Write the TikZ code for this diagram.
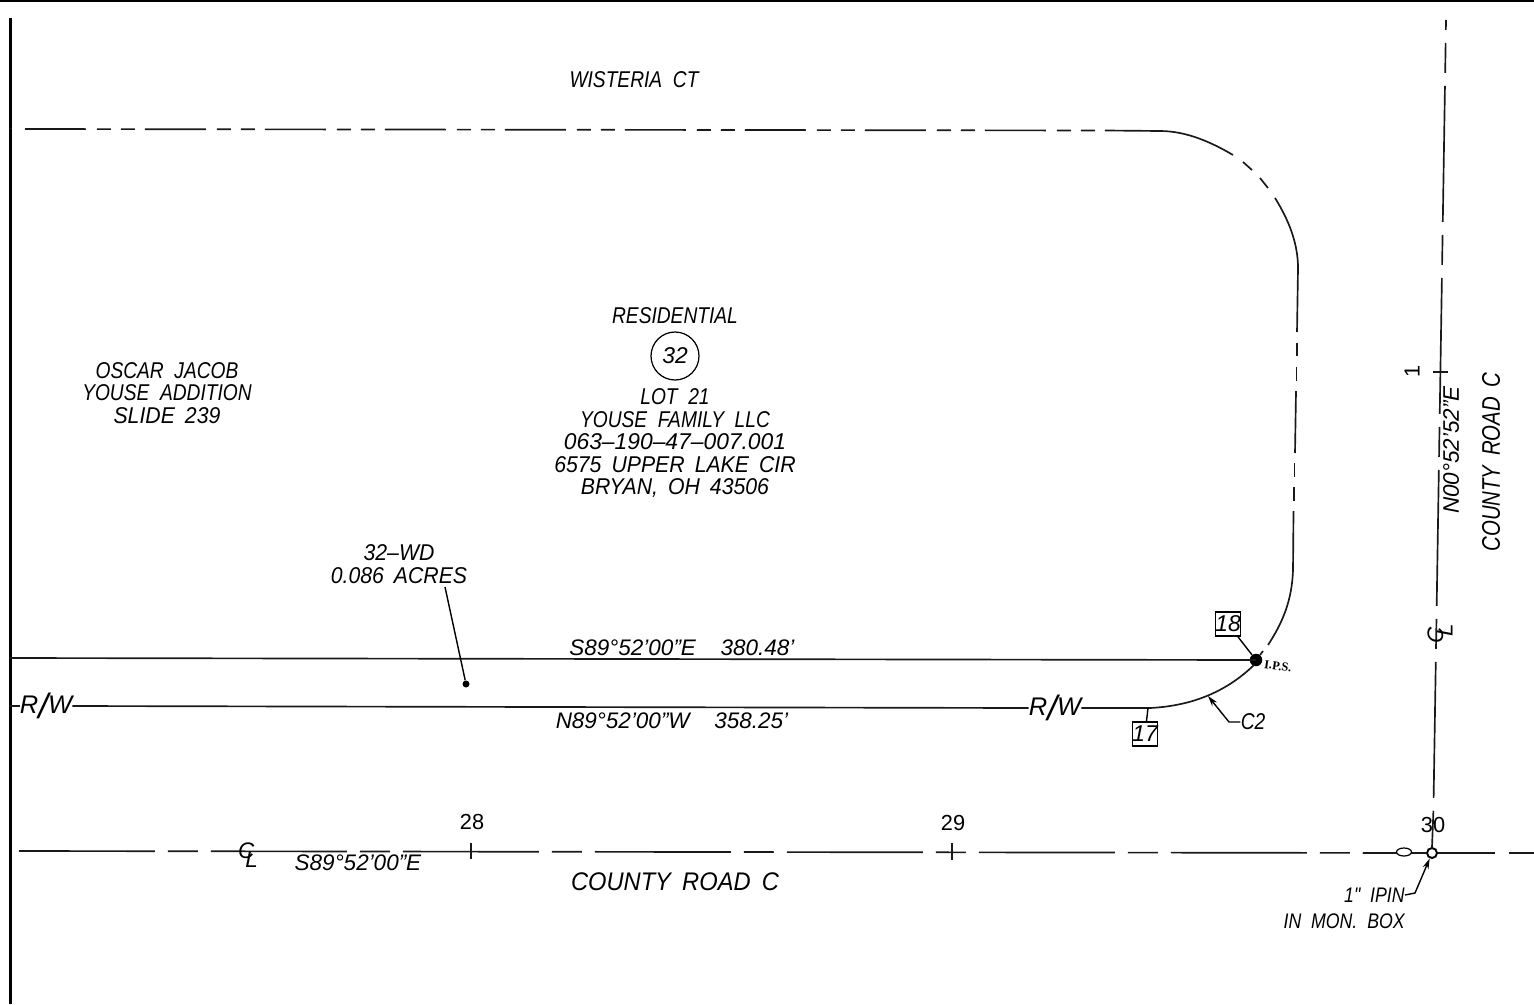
\documentclass[tikz,border=0pt]{standalone}
\usepackage{graphicx}
\usepackage{fontspec}
\setmainfont[WordSpace=1.8]{Liberation Sans}
\newfontfamily\narrowfam[FakeStretch=.84,WordSpace=2.0]{Liberation Sans}
\newfontfamily\numfam[FakeStretch=.93,WordSpace=1.7]{Liberation Sans}
\newfontfamily\ipsfam{Liberation Serif}
\usetikzlibrary{arrows.meta,shapes.geometric}

\tikzset{
	lbl/.style={inner sep=0pt,font=\narrowfam\itshape\fontsize{13}{12.8}\selectfont},
	brg/.style={inner sep=0pt,font=\itshape\fontsize{12.8}{12.8}\selectfont},
	numlbl/.style={inner sep=0pt,font=\numfam\itshape\fontsize{13}{12.8}\selectfont},
	biglbl/.style={inner sep=0pt,font=\numfam\itshape\fontsize{14.5}{14.5}\selectfont},
	boxlbl/.style={inner sep=0pt,font=\narrowfam\itshape\fontsize{12}{14.6}\selectfont},
	sta/.style={inner sep=0pt,font=\fontsize{12.4}{12.4}\selectfont},
	tagbox/.style={draw=black,line width=0.7pt,minimum size=0.48cm,inner sep=0pt,font=\itshape\fontsize{13}{13}\selectfont},
	ln/.style={line width=0.95pt,color=black!90},
	lot/.style={ln,dash pattern=on 1.22cm off .22cm on .28cm off .2cm on .28cm off .2cm},
	cline/.style={ln,dash pattern=on 2.72cm off .26cm on .6cm off .26cm},
	leader/.style={line width=0.8pt,color=black}
}
\newcommand{\clmark}{\makebox[0pt][l]{C}\raisebox{-.42em}{\hspace{.32em}L}}
\newcommand{\rwmark}{\rmfamily R\raisebox{-.2em}{\fontsize{20}{20}\selectfont/}W}

\begin{document}
\begin{tikzpicture}[x=0.02cm,y=-0.02cm]
	\useasboundingbox (0,0) rectangle (1534,1004);
	% sheet border
	\fill[black] (0,0) rectangle (1534,2.5);
	\draw[line width=1.85pt] (10.5,18) -- (10.5,1004);
	% wisteria ct right of way
	\draw[ln] (10,128.5) -- (12,128.5);
	\draw[lot] (25,129) -- (1106,130.5);
	\draw[ln] (1106,130.5) -- (1160,131) .. controls (1186,131) and (1211,142) .. (1233,155);
	\draw[ln] (1243,162) -- (1252,170);
	\draw[ln] (1260,178) -- (1268,188);
	\draw[ln] (1275,198) .. controls (1290,222) and (1298,245) .. (1298,268) -- (1297,332);
	\draw[ln] (1297,343) -- (1297,356);
	\draw[ln] (1296.5,367) -- (1296.5,381);
	\draw[ln] (1296,391) -- (1295,453);
	\draw[ln] (1294.5,463) -- (1294.5,477);
	\draw[ln] (1294,487) -- (1294,501);
	\draw[ln] (1293.5,511) -- (1293,570) .. controls (1292,600) and (1283,622) .. (1268,645);
	% take lines
	\node[circle,fill=black,minimum size=0.25cm,inner sep=0pt] (ips) at (1256,660) {};
	\node[inner sep=0pt,rotate=-8,font=\ipsfam\bfseries\fontsize{7}{7}\selectfont] (ipslbl) at (1278,666) {I.P.S.};
	\draw[ln] (10,658) -- (ips.center);
	\draw[ln] (1260,655) -- (1263,651);
	\node[biglbl] (rwa) at (46,706) {\rwmark};
	\node[biglbl] (rwb) at (1055,708) {\rwmark};
	\draw[ln] (10,706) -- (rwa.west);
	\draw[ln] (rwa.east) -- (rwb.west);
	\draw[ln] (rwb.east) -- (1150,708) .. controls (1190,706) and (1225,693) .. (1254,665);
	% lot text
	\node[lbl] (street) at (634,80) {WISTERIA CT};
	\node[lbl] (res) at (675,316) {RESIDENTIAL};
	\node[draw=black,line width=0.7pt,circle,minimum size=0.96cm,inner sep=0pt,font=\itshape\fontsize{13}{13}\selectfont] (parcel) at (675,356) {32};
	\node[lbl,align=center] (owner) at (675,443) {LOT 21\\YOUSE FAMILY LLC\\{\rmfamily 063--190--47--007.001}\\{\numfam 6575 UPPER LAKE CIR}\\{\numfam BRYAN, OH 43506}};
	\node[lbl,align=center] (addition) at (167,393) {OSCAR JACOB\\YOUSE ADDITION\\{\numfam SLIDE 239}};
	\node[numlbl,align=center] (area) at (399,564) {32–WD\\0.086 ACRES};
	\node[circle,fill=black,minimum size=0.14cm,inner sep=0pt] (areadot) at (466,684) {};
	\path[leader] (445,587) edge (areadot);
	\node[brg] (brga) at (682,648) {S89°52'00"E\hspace{1.1em}380.48'};
	\node[brg] (brgb) at (672,721) {N89°52'00"W\hspace{1.1em}358.25'};
	% point tags
	\node[tagbox] (tag18) at (1228,624) {18};
	\node[tagbox] (tag17) at (1145,734) {17};
	\path[leader] (tag18) edge (ips);
	\coordinate (tagfoot) at (1148,708);
	\path[leader] (tag17) edge (tagfoot);
	\node[lbl] (ctwo) at (1253,722) {C2};
	\coordinate (ctip) at (1208,696);
	\draw[leader,-{Stealth[length=6pt,width=3.5pt]}] (ctwo.west) -- (1229,722) -- (ctip);
	% county road c centerline, east west
	\node[circle,draw=black,line width=1.1pt,minimum size=0.2cm,inner sep=0pt] (pin) at (1432,853) {};
	\draw[cline] (19,851) -- (pin.west);
	\draw[ln,dash pattern=on 1.14cm off .28cm on 1cm off 1cm] (pin.east) -- (1534,853);
	\node[ellipse,draw=black,fill=white,line width=0.7pt,minimum width=0.3cm,minimum height=0.16cm,inner sep=0pt] (oval) at (1404,852) {};
	\node[brg] (clw) at (248,855) {\clmark};
	\node[brg] (brgc) at (358,863) {S89°52'00"E};
	\node[biglbl] (roada) at (675,882) {COUNTY ROAD C};
	\draw[ln] (471,843) -- (471,859);
	\draw[ln] (952,843) -- (952,860);
	\node[sta] (staa) at (472,822) {28};
	\node[sta] (stab) at (953,823) {29};
	\node[sta] (stac) at (1433,825) {30};
	\node[boxlbl,anchor=east] (ipin) at (1405,895) {1" IPIN};
	\node[boxlbl,anchor=east] (box) at (1405,921) {IN MON. BOX};
	\draw[leader,-{Stealth[length=6pt,width=3.5pt]}] (ipin.east) -- (1415,893) -- (pin);
	% county road c centerline, north south
	\draw[cline,dash phase=2.52cm] (1446,20) -- (1433.4,811);
	\draw[ln] (1433.4,811) -- (pin.north);
	\draw[ln] (1433,372) -- (1448,372);
	\node[sta,rotate=90] (stad) at (1412,371) {1};
	\node[brg,rotate=90] (brgd) at (1451,450) {N00°52'52"E};
	\node[biglbl,rotate=90] (roadb) at (1491,462) {\scalebox{.86}[1]{COUNTY ROAD C}};
	\node[brg,rotate=90] (cln) at (1440,634) {\clmark};
\end{tikzpicture}
\end{document}
